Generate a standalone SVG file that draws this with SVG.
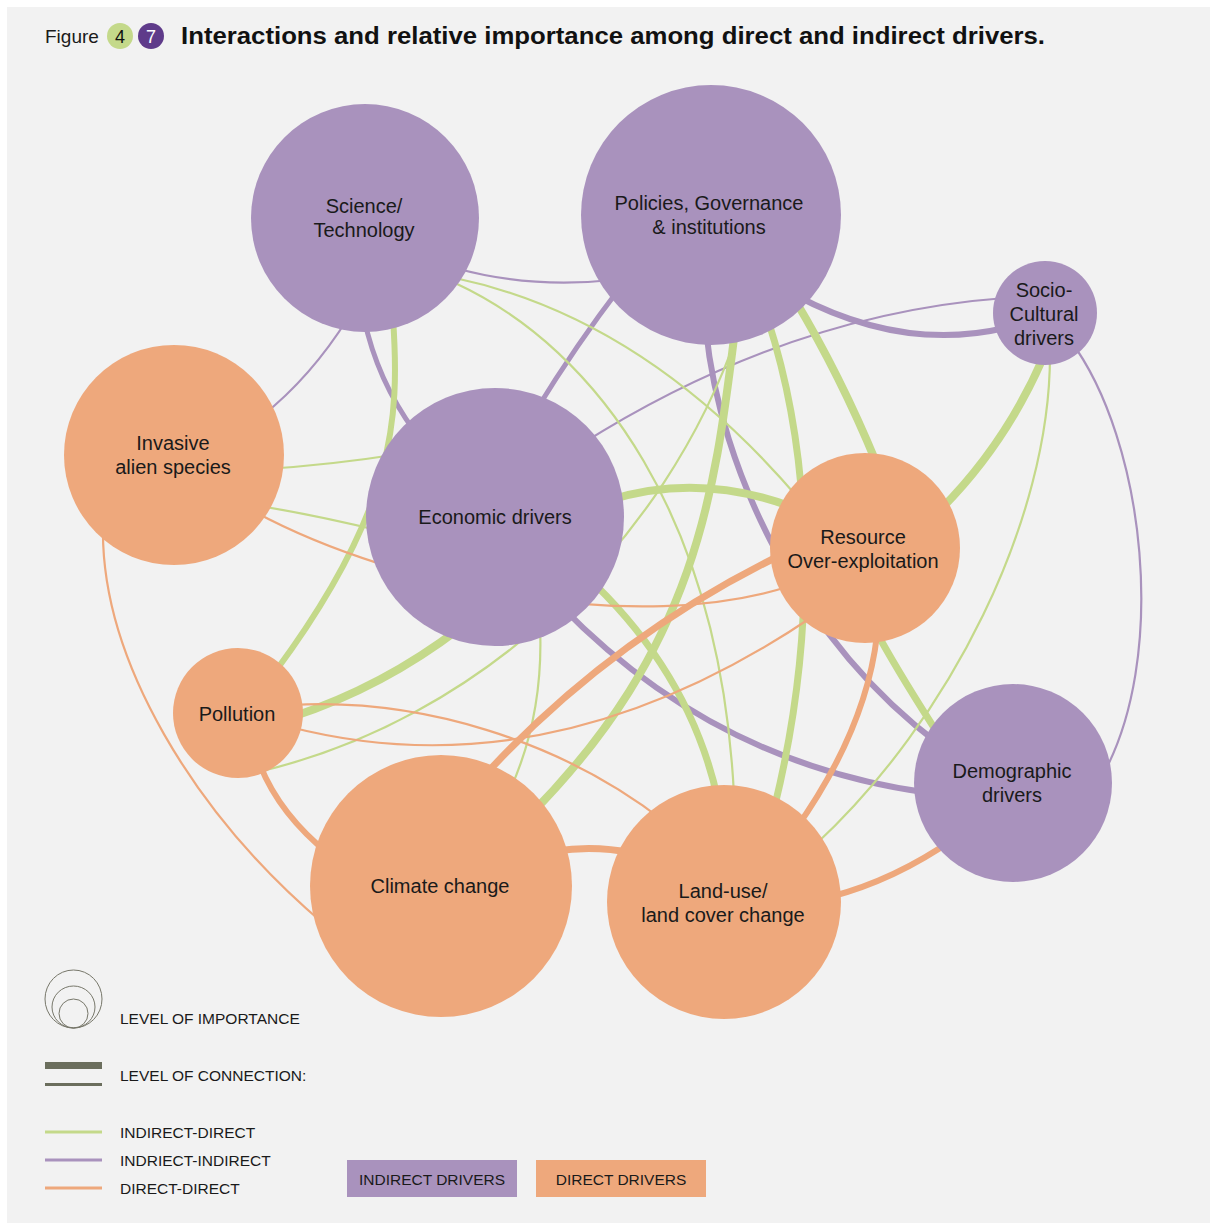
<svg xmlns="http://www.w3.org/2000/svg" width="1212" height="1225" viewBox="0 0 1212 1225">
<style>
.bg{fill:#f2f2f2}
.ind{fill:#a992bd}
.dir{fill:#eea87c}
.c{fill:none;stroke-linecap:butt}
.g{stroke:#c4d98a}
.p{stroke:#a992bd}
.o{stroke:#eea87c}
.t1{stroke-width:2.2}
.t5{stroke-width:5}
.t6{stroke-width:6}
.t7{stroke-width:7}
.t8{stroke-width:8}
.lbl{font-family:"Liberation Sans",Arial,sans-serif;font-size:20px;fill:#1a1a1a;text-anchor:middle}
.leg{font-family:"Liberation Sans",Arial,sans-serif;font-size:15.5px;fill:#1a1a1a}
</style>
<rect x="0" y="0" width="1212" height="1225" fill="#ffffff"/>
<rect class="bg" x="7" y="7" width="1203" height="1216"/>

<g id="header">
<text x="45" y="43" font-family="Liberation Sans, Arial, sans-serif" font-size="19" fill="#1a1a1a">Figure</text>
<circle cx="120" cy="36" r="13" fill="#c4d98a"/>
<text x="120" y="43" font-family="Liberation Sans, Arial, sans-serif" font-size="18" fill="#111" text-anchor="middle">4</text>
<circle cx="151" cy="36" r="13" fill="#5f3b8a"/>
<text x="151" y="43" font-family="Liberation Sans, Arial, sans-serif" font-size="18" fill="#ffffff" text-anchor="middle">7</text>
<text x="181" y="44" font-family="Liberation Sans, Arial, sans-serif" font-size="23" font-weight="bold" fill="#111" textLength="864" lengthAdjust="spacingAndGlyphs">Interactions and relative importance among direct and indirect drivers.</text>
</g>

<g id="connectors">
<!-- indirect-indirect -->
<path class="c p t1" d="M455,268 Q531,289 612,280"/>
<path class="c p t1" d="M348,318 Q311,377 262,416"/>
<path class="c p t5" d="M364,318 Q377,380 415,432"/>
<path class="c p t5" d="M622,285 Q576,345 535,412"/>
<path class="c p t6" d="M795,295 Q902,352 1005,328"/>
<path class="c p t1" d="M580,445 Q787,314 1005,298"/>
<path class="c p t6" d="M706,330 C720,470 800,640 940,745"/>
<path class="c p t6" d="M560,605 Q714,764 930,793"/>
<path class="c p t1" d="M1070,340 C1145,440 1170,660 1100,780"/>
<!-- indirect-direct -->
<path class="c g t6" d="M393,318 C400,420 395,510 275,672"/>
<path class="c g t8" d="M460,628 Q383,687 292,717"/>
<path class="c g t1" d="M258,772 C480,720 665,545 738,332"/>
<path class="c g t1" d="M540,625 Q544,715 510,790"/>
<path class="c g t7" d="M585,575 Q690,672 718,800"/>
<path class="c g t8" d="M735,330 C715,492 697,646 530,815"/>
<path class="c g t7" d="M768,320 C810,450 820,620 775,805"/>
<path class="c g t8" d="M795,300 Q840,375 876,462"/>
<path class="c g t8" d="M1043,358 Q1005,445 940,510"/>
<path class="c g t1" d="M455,278 Q645,318 800,500"/>
<path class="c g t1" d="M455,283 C600,350 720,520 734,795"/>
<path class="c g t1" d="M265,469 Q330,465 400,454"/>
<path class="c g t1" d="M260,506 Q320,516 385,532"/>
<path class="c g t1" d="M1050,355 C1050,520 950,720 815,845"/>
<path class="c g t7" d="M878,635 Q903,680 942,740"/>
<path class="c g t8" d="M610,500 Q700,472 795,508"/>
<!-- direct-direct -->
<path class="c o t1" d="M103,525 C100,660 195,815 325,925"/>
<path class="c o t1" d="M255,512 C400,590 640,635 790,586"/>
<path class="c o t6" d="M260,765 Q280,815 330,855"/>
<path class="c o t1" d="M290,727 Q551,794 815,615"/>
<path class="c o t1" d="M292,705 C420,698 560,740 665,822"/>
<path class="c o t7" d="M485,775 Q613,636 785,553"/>
<path class="c o t7" d="M555,851 Q595,845 632,853"/>
<path class="c o t6" d="M877,635 Q866,730 795,830"/>
<path class="c o t6" d="M830,897 Q895,880 955,838"/>
</g>

<g id="node-science">
<circle class="ind" cx="365" cy="218" r="114"/>
<text class="lbl" x="364" y="213">Science/</text>
<text class="lbl" x="364" y="237">Technology</text>
</g>
<g id="node-policies">
<circle class="ind" cx="711" cy="215" r="130"/>
<text class="lbl" x="709" y="210">Policies, Governance</text>
<text class="lbl" x="709" y="234">&amp; institutions</text>
</g>
<g id="node-socio">
<circle class="ind" cx="1045" cy="313" r="52"/>
<text class="lbl" x="1044" y="297">Socio-</text>
<text class="lbl" x="1044" y="321">Cultural</text>
<text class="lbl" x="1044" y="345">drivers</text>
</g>
<g id="node-invasive">
<circle class="dir" cx="174" cy="455" r="110"/>
<text class="lbl" x="173" y="450">Invasive</text>
<text class="lbl" x="173" y="474">alien species</text>
</g>
<g id="node-economic">
<circle class="ind" cx="495" cy="517" r="129"/>
<text class="lbl" x="495" y="524">Economic drivers</text>
</g>
<g id="node-resource">
<circle class="dir" cx="865" cy="548" r="95"/>
<text class="lbl" x="863" y="544">Resource</text>
<text class="lbl" x="863" y="568">Over-exploitation</text>
</g>
<g id="node-pollution">
<circle class="dir" cx="238" cy="713" r="65"/>
<text class="lbl" x="237" y="721">Pollution</text>
</g>
<g id="node-climate">
<circle class="dir" cx="441" cy="886" r="131"/>
<text class="lbl" x="440" y="893">Climate change</text>
</g>
<g id="node-landuse">
<circle class="dir" cx="724" cy="902" r="117"/>
<text class="lbl" x="723" y="898">Land-use/</text>
<text class="lbl" x="723" y="922">land cover change</text>
</g>
<g id="node-demographic">
<circle class="ind" cx="1013" cy="783" r="99"/>
<text class="lbl" x="1012" y="778">Demographic</text>
<text class="lbl" x="1012" y="802">drivers</text>
</g>

<g id="legend">
<g fill="none" stroke="#77776a" stroke-width="1">
<ellipse cx="73.5" cy="999" rx="28.5" ry="29"/>
<ellipse cx="73.5" cy="1007" rx="21.5" ry="21"/>
<ellipse cx="73.5" cy="1013.5" rx="14.5" ry="14.5"/>
</g>
<text class="leg" x="120" y="1024">LEVEL OF IMPORTANCE</text>
<rect x="45" y="1062" width="57" height="7" fill="#6b6e5d"/>
<rect x="45" y="1083" width="57" height="3" fill="#6b6e5d"/>
<text class="leg" x="120" y="1081">LEVEL OF CONNECTION:</text>
<line x1="45" y1="1132" x2="102" y2="1132" stroke="#c4d98a" stroke-width="3"/>
<line x1="45" y1="1160" x2="102" y2="1160" stroke="#a992bd" stroke-width="3"/>
<line x1="45" y1="1188" x2="102" y2="1188" stroke="#eea87c" stroke-width="3"/>
<text class="leg" x="120" y="1138">INDIRECT-DIRECT</text>
<text class="leg" x="120" y="1166">INDRIECT-INDIRECT</text>
<text class="leg" x="120" y="1194">DIRECT-DIRECT</text>
<rect class="ind" x="347" y="1160" width="170" height="37"/>
<text class="leg" x="432" y="1185" text-anchor="middle">INDIRECT DRIVERS</text>
<rect class="dir" x="536" y="1160" width="170" height="37"/>
<text class="leg" x="621" y="1185" text-anchor="middle">DIRECT DRIVERS</text>
</g>
</svg>
